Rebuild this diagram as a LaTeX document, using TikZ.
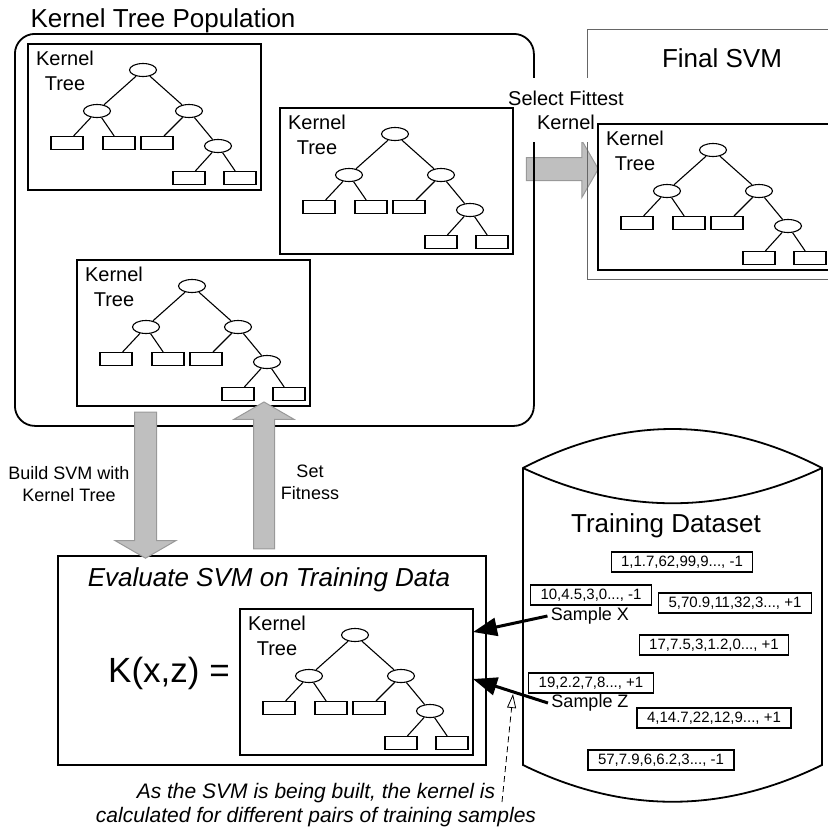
\documentclass[tikz,border=0pt]{standalone}
\usepackage{fontspec}
\setmainfont{Liberation Sans}
\usetikzlibrary{shapes.geometric, shapes.arrows, arrows.meta}

\tikzset{
  kerneltree/.pic={
    \node[treebox, anchor=north west] (-box) at (0,0) {};
    \node[treelabel] (-lbl) at (38,28) {Kernel\\Tree};
    \node[inode] (-r) at (116,27) {};
    \node[inode] (-a) at (70,68) {};
    \node[inode] (-b) at (162,68) {};
    \node[leafbox] (-aa) at (40,100) {};
    \node[leafbox] (-ab) at (92,100) {};
    \node[leafbox] (-ba) at (130,100) {};
    \node[inode] (-bb) at (191,103) {};
    \node[leafbox] (-bba) at (162,135) {};
    \node[leafbox] (-bbb) at (213,135) {};
    \draw[branch] (-r) -- (-a) (-r) -- (-b) (-a) -- (-aa) (-a) -- (-ab)
      (-b) -- (-ba) (-b) -- (-bb) (-bb) -- (-bba) (-bb) -- (-bbb);
  }
}

\begin{document}
\begin{tikzpicture}[x=1pt, y=-1pt,
    treebox/.style={draw, line width=1.8pt, minimum width=233pt, minimum height=146pt, inner sep=0pt},
    treelabel/.style={align=center, inner sep=0pt, font=\fontsize{20}{25}\selectfont},
    inode/.style={draw, ellipse, line width=1.1pt, minimum width=27pt, minimum height=13pt, inner sep=0pt},
    leafbox/.style={draw, line width=1.1pt, minimum width=32pt, minimum height=13pt, inner sep=0pt},
    branch/.style={line width=1.1pt},
    framebox/.style={draw, line width=1.8pt, anchor=north west, inner sep=0pt},
    fatarrow/.style={single arrow, draw=black!40, fill=black!25, line width=1pt, inner xsep=0pt,
      inner ysep=10.5pt, single arrow tip angle=120, single arrow head extend=19.5pt},
    rowbox/.style={draw, line width=1.2pt, inner xsep=10pt, inner ysep=0pt, minimum height=20pt,
      font=\fontsize{15}{18}\selectfont},
    samplearrow/.style={line width=3pt, -{Triangle[length=24pt, width=18pt]}},
    ]
  \path[use as bounding box] (0,0) rectangle (828,831);
  \clip (0,0) rectangle (828,831);

  % the selection arrow lies under the frames
  \node[fatarrow, minimum height=72pt, inner ysep=11pt, single arrow head extend=17pt] (select) at (559,169) {};

  \node[framebox, rounded corners=20pt, minimum width=519pt, minimum height=392pt] (pop) at (14,33) {};
  \node[anchor=base west, font=\fontsize{26}{30}\selectfont] (poptitle) at (27,27) {Kernel Tree Population};
  \node[framebox, draw=black!60, line width=1.2pt, minimum width=260pt, minimum height=250pt] (final) at (587,29) {};
  \node[anchor=base, font=\fontsize{26}{30}\selectfont] (finaltitle) at (722,67) {Final SVM};
  \node[fill=white, align=center, inner xsep=2pt, inner ysep=13pt, font=\fontsize{20}{24}\selectfont] (selectlbl) at (566,110) {Select Fittest\\Kernel};

  \pic (t1) at (27,43) {kerneltree};
  \pic (t2) at (279,107) {kerneltree};
  \pic (t3) at (76,259) {kerneltree};
  \pic (ft) at (597,123) {kerneltree};

  \node[framebox, minimum width=428pt, minimum height=209pt] (eval) at (57,555) {};
  \node[anchor=base, font=\fontsize{26}{30}\selectfont\itshape] (evaltitle) at (269,586) {Evaluate SVM on Training Data};
  \node[anchor=base, font=\fontsize{35}{40}\selectfont] (kxz) at (169,682) {K(x,z) =};
  \pic (et) at (239,608) {kerneltree};

  \node[fatarrow, rotate=-90, minimum height=146pt] (build) at (145.5,482) {};
  \node[fatarrow, rotate=90, minimum height=147pt, inner ysep=10pt] (fitness) at (264,478.5) {};
  \node[align=center, font=\fontsize{18}{22}\selectfont] (buildlbl) at (69,484) {Build SVM with\\Kernel Tree};
  \node[align=center, font=\fontsize{18}{22}\selectfont] (fitlbl) at (310,482) {Set\\Fitness};

  % training data
  \draw[line width=1.8pt] (523,468) .. controls (623,416) and (722,416) .. (822,468) -- (822,765)
    .. controls (722,814) and (623,814) .. (523,765) -- cycle;
  \draw[line width=1.8pt] (523,468) .. controls (623,515) and (722,515) .. (822,468);
  \node[anchor=base, font=\fontsize{26}{30}\selectfont] (datatitle) at (666,532) {Training Dataset};
  \node[rowbox] (r1) at (682,562) {1,1.7,62,99,9..., -1};
  \node[rowbox] (r2) at (591,595) {10,4.5,3,0..., -1};
  \node[rowbox] (r3) at (735,603) {5,70.9,11,32,3..., +1};
  \node[rowbox] (r4) at (714,645) {17,7.5,3,1.2,0..., +1};
  \node[rowbox] (r5) at (591,683) {19,2.2,7,8..., +1};
  \node[rowbox] (r6) at (714,718) {4,14.7,22,12,9..., +1};
  \node[rowbox] (r7) at (661,760) {57,7.9,6,6.2,3..., -1};
  \node[font=\fontsize{18}{22}\selectfont] (sx) at (590,616) {Sample X};
  \node[font=\fontsize{18}{22}\selectfont] (sz) at (590,703) {Sample Z};

  \coordinate (tipx) at (473,632);
  \coordinate (tipz) at (473,679);
  \draw[samplearrow] (sx.west) -- (tipx);
  \draw[samplearrow] (sz.west) -- (tipz);

  \node[align=center, font=\fontsize{21}{24}\selectfont\itshape] (note) at (316,805)
    {As the SVM is being built, the kernel is\\calculated for different pairs of training samples};
  \coordinate (notept) at (502,802);
  \coordinate (notetip) at (513,694);
  \draw[dashed, dash pattern=on 6pt off 4pt, line width=0.8pt, -{Triangle[open, length=14pt, width=9pt]}] (notept) -- (notetip);
\end{tikzpicture}
\end{document}
